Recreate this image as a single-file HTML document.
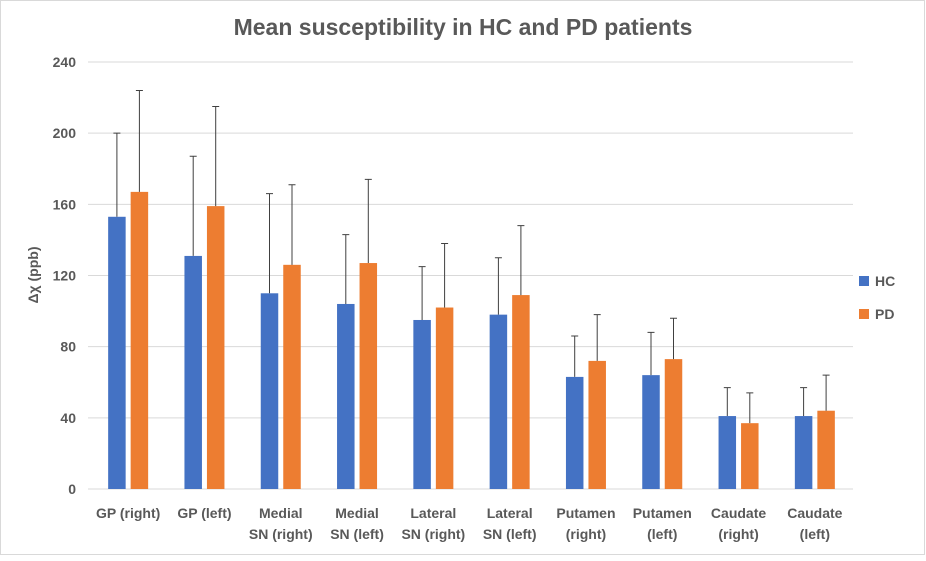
<!DOCTYPE html>
<html><head><meta charset="utf-8"><style>
body{margin:0;background:#fff;font-family:"Liberation Sans",sans-serif}
svg text{font-family:"Liberation Sans",sans-serif}
</style></head><body>
<svg id="c" width="926" height="556">
<rect x="0.5" y="0.5" width="924" height="554" fill="#fff" stroke="#d9d9d9"/>
<text x="463" y="35" text-anchor="middle" font-size="23" font-weight="bold" fill="#595959">Mean susceptibility in HC and PD patients</text>
<text transform="translate(38,275) rotate(-90)" text-anchor="middle" font-size="14" font-weight="bold" fill="#595959">Δχ (ppb)</text>
<g id="grid"></g><g id="bars"></g><g id="xl"></g>
<rect x="859" y="276" width="10" height="10" fill="#4472c4"/>
<text x="875" y="286" font-size="14" font-weight="bold" fill="#595959">HC</text>
<rect x="859" y="309" width="10" height="10" fill="#ed7d31"/>
<text x="875" y="319" font-size="14" font-weight="bold" fill="#595959">PD</text>
</svg>
<script>
const categories=[["GP (right)"],["GP (left)"],["Medial","SN (right)"],["Medial","SN (left)"],["Lateral","SN (right)"],["Lateral","SN (left)"],["Putamen","(right)"],["Putamen","(left)"],["Caudate","(right)"],["Caudate","(left)"]];
const hcValues=[153,131,110,104,95,98,63,64,41,41];
const hcUpper=[200,187,166,143,125,130,86,88,57,57];
const pdValues=[167,159,126,127,102,109,72,73,37,44];
const pdUpper=[224,215,171,174,138,148,98,96,54,64];
const yTicks=[0,40,80,120,160,200,240];
const NS='http://www.w3.org/2000/svg';
const x0=90,x1=853,yb=489,yt=62,ymax=240;
const y=v=>yb-(v/ymax)*(yb-yt);
const bw=(x1-x0)/categories.length;
function mk(t,a,p){const e=document.createElementNS(NS,t);for(const k in a)e.setAttribute(k,a[k]);p.appendChild(e);return e;}
const g=document.getElementById('grid'),b=document.getElementById('bars'),xl=document.getElementById('xl');
yTicks.forEach(t=>{
 const l=mk('line',{x1:88,x2:x1,y1:y(t),y2:y(t),stroke:'#d9d9d9','stroke-width':1},g);
 
 
 const tx=mk('text',{x:76,y:y(t)+5,'text-anchor':'end','font-size':14,'font-weight':'bold',fill:'#595959'},g);
 tx.textContent=t;
 
 
});
function bar(cx,v,up,col,name){
 const r=mk('rect',{x:cx,y:y(v),width:17.5,height:yb-y(v),fill:col},b);
 
 
 const mx=cx+8.75;
 const e=mk('path',{d:`M${mx},${y(v)}V${y(up)}M${mx-3.5},${y(up)}H${mx+3.5}`,stroke:'#404040','stroke-width':1,fill:'none'},b);
 
 
}
categories.forEach((c,i)=>{
 const cx=x0+bw*(i+0.5);
 bar(cx-20,hcValues[i],hcUpper[i],'#4472c4','bar-hc-'+i);
 bar(cx+2.5,pdValues[i],pdUpper[i],'#ed7d31','bar-pd-'+i);
 c.forEach((s,j)=>{
  const t=mk('text',{x:cx,y:518+j*21,'text-anchor':'middle','font-size':14,'font-weight':'bold',fill:'#595959'},xl);
  t.textContent=s;
  
  
 });
});
</script>
</body></html>
